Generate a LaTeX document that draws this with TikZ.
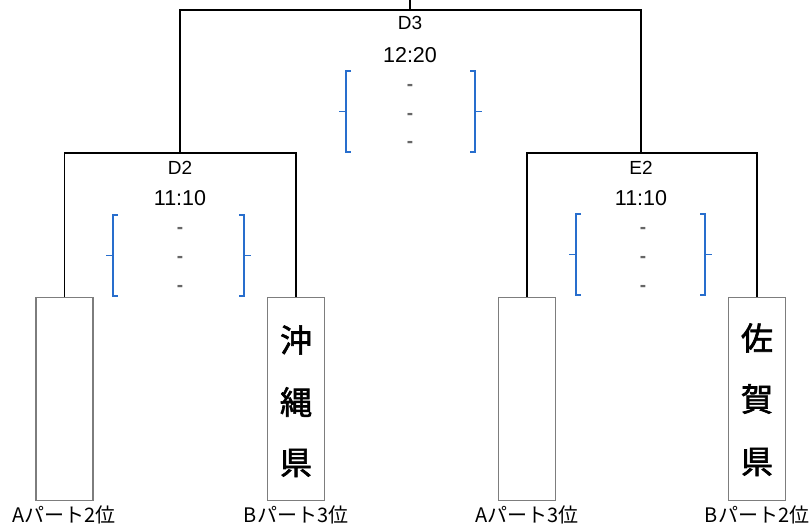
\documentclass[tikz,border=0pt]{standalone}
\usepackage{fontspec}
\setmainfont{Liberation Sans}
\newfontfamily\jp{Noto Sans CJK JP}
\newfontfamily\jpk[FakeBold=2]{Noto Sans CJK JP}
\definecolor{brk}{RGB}{40,110,205}
\definecolor{boxgray}{RGB}{125,125,125}
\tikzset{
  tline/.style={line width=1.8pt, black},
  teambox/.style={draw=boxgray, line width=1.5pt, minimum width=57pt, minimum height=203pt, inner sep=0pt},
  brkline/.style={draw=brk, line width=1.4pt},
  code/.style={font=\fontsize{19}{21}\selectfont, inner sep=0pt},
  time/.style={font=\fontsize{21.5}{23}\selectfont, inner sep=0pt},
  dashmark/.style={font=\bfseries\fontsize{19}{19}\selectfont, text=black!60, inner sep=0pt},
  kanji/.style={font=\jpk\fontsize{32}{34}\selectfont, inner sep=0pt},
  rank/.style={font=\jp\fontsize{20}{22}\selectfont, inner sep=0pt}
}
\begin{document}
\begin{tikzpicture}[x=1pt,y=-1pt]
\useasboundingbox (0,0) rectangle (811,526);
% team boxes
\node[teambox] (a2) at (64.5,399) {};
\node[teambox] (b3) at (296,399) {};
\node[teambox] (a3) at (527,399) {};
\node[teambox] (b2) at (757,399) {};
% kanji
\node[kanji] (k1) at (296,340) {沖};
\node[kanji] (k2) at (296,402) {縄};
\node[kanji] (k3) at (296,463) {県};
\node[kanji] (s1) at (757,338) {佐};
\node[kanji] (s2) at (757,399) {賀};
\node[kanji] (s3) at (757,462) {県};
% rank labels
\node[rank] (ra2) at (64,515) {Aパート2位};
\node[rank] (rb3) at (296,515) {Bパート3位};
\node[rank] (ra3) at (527,515) {Aパート3位};
\node[rank] (rb2) at (757,515) {Bパート2位};
% bracket joints
\coordinate (d2) at (180,153);
\coordinate (e2) at (641,153);
\coordinate (d3) at (410,10);
\coordinate (top) at (410,0);
\draw[tline] (a2.north) |- (d2) -| (b3.north);
\draw[tline] (a3.north) |- (e2) -| (b2.north);
\draw[tline] (d2) |- (d3) -| (e2);
\draw[tline] (d3) -- (top);
% match labels
\node[code] (tD3) at (410,23) {D3};
\node[time] (hD3) at (410,55) {12:20};
\node[code] (tD2) at (180,168) {D2};
\node[time] (hD2) at (180,198) {11:10};
\node[code] (tE2) at (641,168) {E2};
\node[time] (hE2) at (641,198) {11:10};
% score dashes
\foreach \n/\x/\ya/\yb/\yc in {D3/410/87/116/144, D2/180/230/259/288, E2/643/230/259/288}{
  \node[dashmark] (m\n a) at (\x,\ya) {-};
  \node[dashmark] (m\n b) at (\x,\yb) {-};
  \node[dashmark] (m\n c) at (\x,\yc) {-};
}
% blue brackets
\foreach \l/\r/\ya/\yb in {346/475/71/152, 113/244/215/296, 576/705/214/295}{
  \draw[brkline] (\l+5,\ya) -- (\l,\ya) -- (\l,\yb) -- (\l+5,\yb);
  \draw[brkline] (\l,{(\ya+\yb)/2}) -- (\l-7,{(\ya+\yb)/2});
  \draw[brkline] (\r-5,\ya) -- (\r,\ya) -- (\r,\yb) -- (\r-5,\yb);
  \draw[brkline] (\r,{(\ya+\yb)/2}) -- (\r+7,{(\ya+\yb)/2});
}
\end{tikzpicture}
\end{document}
